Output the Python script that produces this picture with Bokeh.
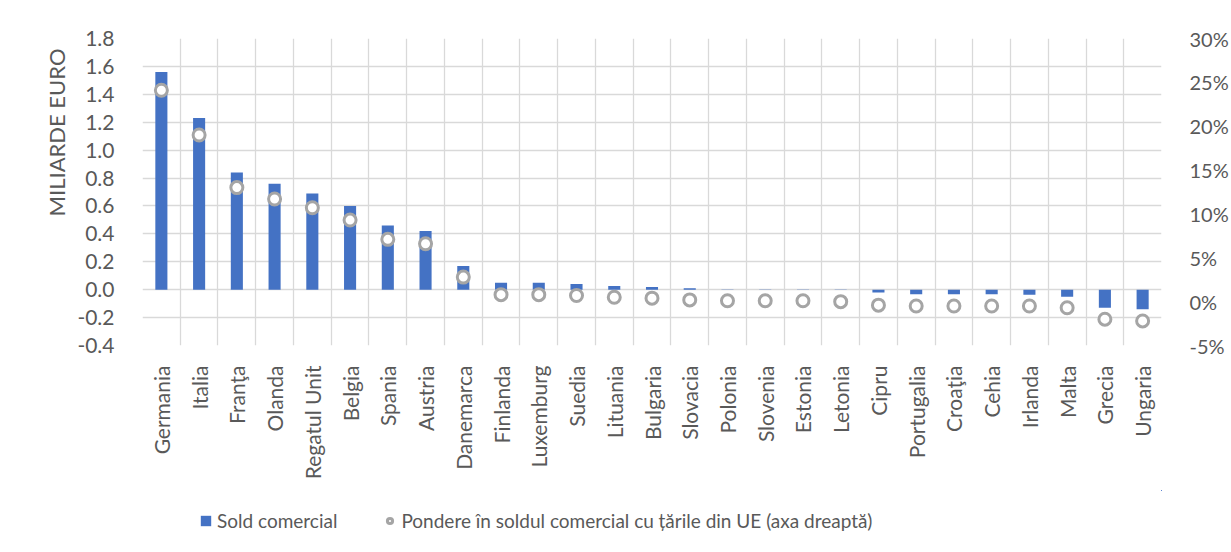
import math
from bokeh.plotting import figure
from bokeh.layouts import column
from bokeh.models import (ColumnDataSource, Range1d, LinearAxis, FixedTicker, Grid,
                          Legend, LegendItem, PrintfTickFormatter, Title)
from bokeh.embed import file_html
from bokeh.resources import INLINE

countries = ["Germania", "Italia", "Franţa", "Olanda", "Regatul Unit", "Belgia", "Spania",
             "Austria", "Danemarca", "Finlanda", "Luxemburg", "Suedia", "Lituania", "Bulgaria",
             "Slovacia", "Polonia", "Slovenia", "Estonia", "Letonia", "Cipru", "Portugalia",
             "Croaţia", "Cehia", "Irlanda", "Malta", "Grecia", "Ungaria"]
sold_comercial = [1.56, 1.23, 0.84, 0.76, 0.69, 0.60, 0.46, 0.42, 0.17, 0.05, 0.05, 0.04,
                  0.026, 0.019, 0.01, 0.002, 0.001, 0.001, 0.0005, -0.02, -0.033, -0.033,
                  -0.033, -0.037, -0.05, -0.13, -0.14]
pondere = [24.1, 19.0, 13.0, 11.7, 10.7, 9.3, 7.1, 6.6, 2.8, 0.8, 0.8, 0.7, 0.5, 0.4, 0.2,
           0.1, 0.1, 0.1, 0.0, -0.4, -0.5, -0.5, -0.5, -0.5, -0.7, -2.0, -2.2]
left_ticks = [-0.4, -0.2, 0.0, 0.2, 0.4, 0.6, 0.8, 1.0, 1.2, 1.4, 1.6, 1.8]
right_ticks = [-5, 0, 5, 10, 15, 20, 25, 30]
left_title = "MILIARDE EURO"
legend_labels = ["Sold comercial", "Pondere în soldul comercial cu țările din UE (axa dreaptă)"]

FONT = "Lato"
TXT = "#595959"
GRID = "#d9d9d9"
BAR = "#4472C4"
DOT = "#A5A5A5"

n = len(countries)
xs = [i + 0.5 for i in range(n)]
src = ColumnDataSource(dict(x=xs, sold=sold_comercial, pond=pondere))

p = figure(width=1231, height=490, output_backend="svg", toolbar_location=None,
           x_range=Range1d(0, n), y_range=Range1d(left_ticks[0], left_ticks[-1]),
           min_border_left=142, min_border_right=69, min_border_top=38, min_border_bottom=145)
p.extra_y_ranges = {"pct": Range1d(right_ticks[0], right_ticks[-1])}
p.outline_line_color = None
p.background_fill_color = "white"
p.border_fill_color = "white"

# grids
p.xgrid.visible = False
p.ygrid.visible = False
p.add_layout(Grid(dimension=0, ticker=FixedTicker(ticks=list(range(n + 1))),
                  grid_line_color=GRID, grid_line_width=1.3))
p.add_layout(Grid(dimension=1, ticker=FixedTicker(ticks=left_ticks),
                  grid_line_color=GRID, grid_line_width=1.3))

# x axis
xa = p.xaxis[0]
xa.ticker = FixedTicker(ticks=xs)
xa.major_label_overrides = {x: c for x, c in zip(xs, countries)}
xa.major_label_orientation = math.pi / 2
xa.axis_line_color = None
xa.major_tick_line_color = None
xa.minor_tick_line_color = None
xa.major_tick_in = 0
xa.major_tick_out = 0
xa.major_label_text_font = FONT
xa.major_label_text_font_size = "21px"
xa.major_label_text_color = TXT
xa.major_label_standoff = 20

# left axis
ya = p.yaxis[0]
ya.ticker = FixedTicker(ticks=left_ticks)
ya.formatter = PrintfTickFormatter(format="%.1f")
ya.axis_line_color = None
ya.major_tick_line_color = None
ya.minor_tick_line_color = None
ya.major_label_text_font = FONT
ya.major_label_text_font_size = "21px"
ya.major_label_text_color = TXT
ya.major_label_standoff = 22

# right axis
ra = LinearAxis(y_range_name="pct", ticker=FixedTicker(ticks=right_ticks),
                formatter=PrintfTickFormatter(format="%d%%"))
ra.axis_line_color = None
ra.major_tick_line_color = None
ra.minor_tick_line_color = None
ra.major_label_text_font = FONT
ra.major_label_text_font_size = "20px"
ra.major_label_text_color = TXT
ra.major_label_standoff = 22
p.add_layout(ra, "right")

p.vbar(x="x", top="sold", bottom=0, width=0.32, source=src,
       fill_color=BAR, line_color=None)
p.scatter(x="x", y="pond", y_range_name="pct", size=12, source=src,
          fill_color="white", line_color=DOT, line_width=3)

ttl = Title(text=left_title, align="right", offset=10, standoff=10,
            text_font=FONT, text_font_size="22px", text_color=TXT, text_font_style="normal")
p.add_layout(ttl, "left")

# legend strip below the chart (its ranges show none of the data, only the legend)
lf = figure(width=1231, height=46, output_backend="svg", toolbar_location=None,
            x_range=Range1d(-3, -2), y_range=Range1d(-3, -2),
            x_axis_type=None, y_axis_type=None, min_border=0)
lf.outline_line_color = None
lf.xgrid.visible = False
lf.ygrid.visible = False
lb = lf.vbar(x="x", top="sold", bottom=0, width=0.32, source=src,
             fill_color=BAR, line_color=None)
ld = lf.scatter(x="x", y="pond", size=12, source=src, fill_color="white",
                line_color=DOT, line_width=3)
legend = Legend(items=[LegendItem(label=legend_labels[0], renderers=[lb]),
                       LegendItem(label=legend_labels[1], renderers=[ld])],
                orientation="horizontal", location=(57, 4),
                label_text_font=FONT, label_text_font_size="19px", label_text_color=TXT,
                glyph_width=13, glyph_height=13, label_standoff=5, spacing=46,
                border_line_color=None, background_fill_alpha=0, margin=0, padding=0)
lf.add_layout(legend)

layout = column(p, lf, spacing=0)
open("out.html", "w").write(file_html(layout, INLINE))
